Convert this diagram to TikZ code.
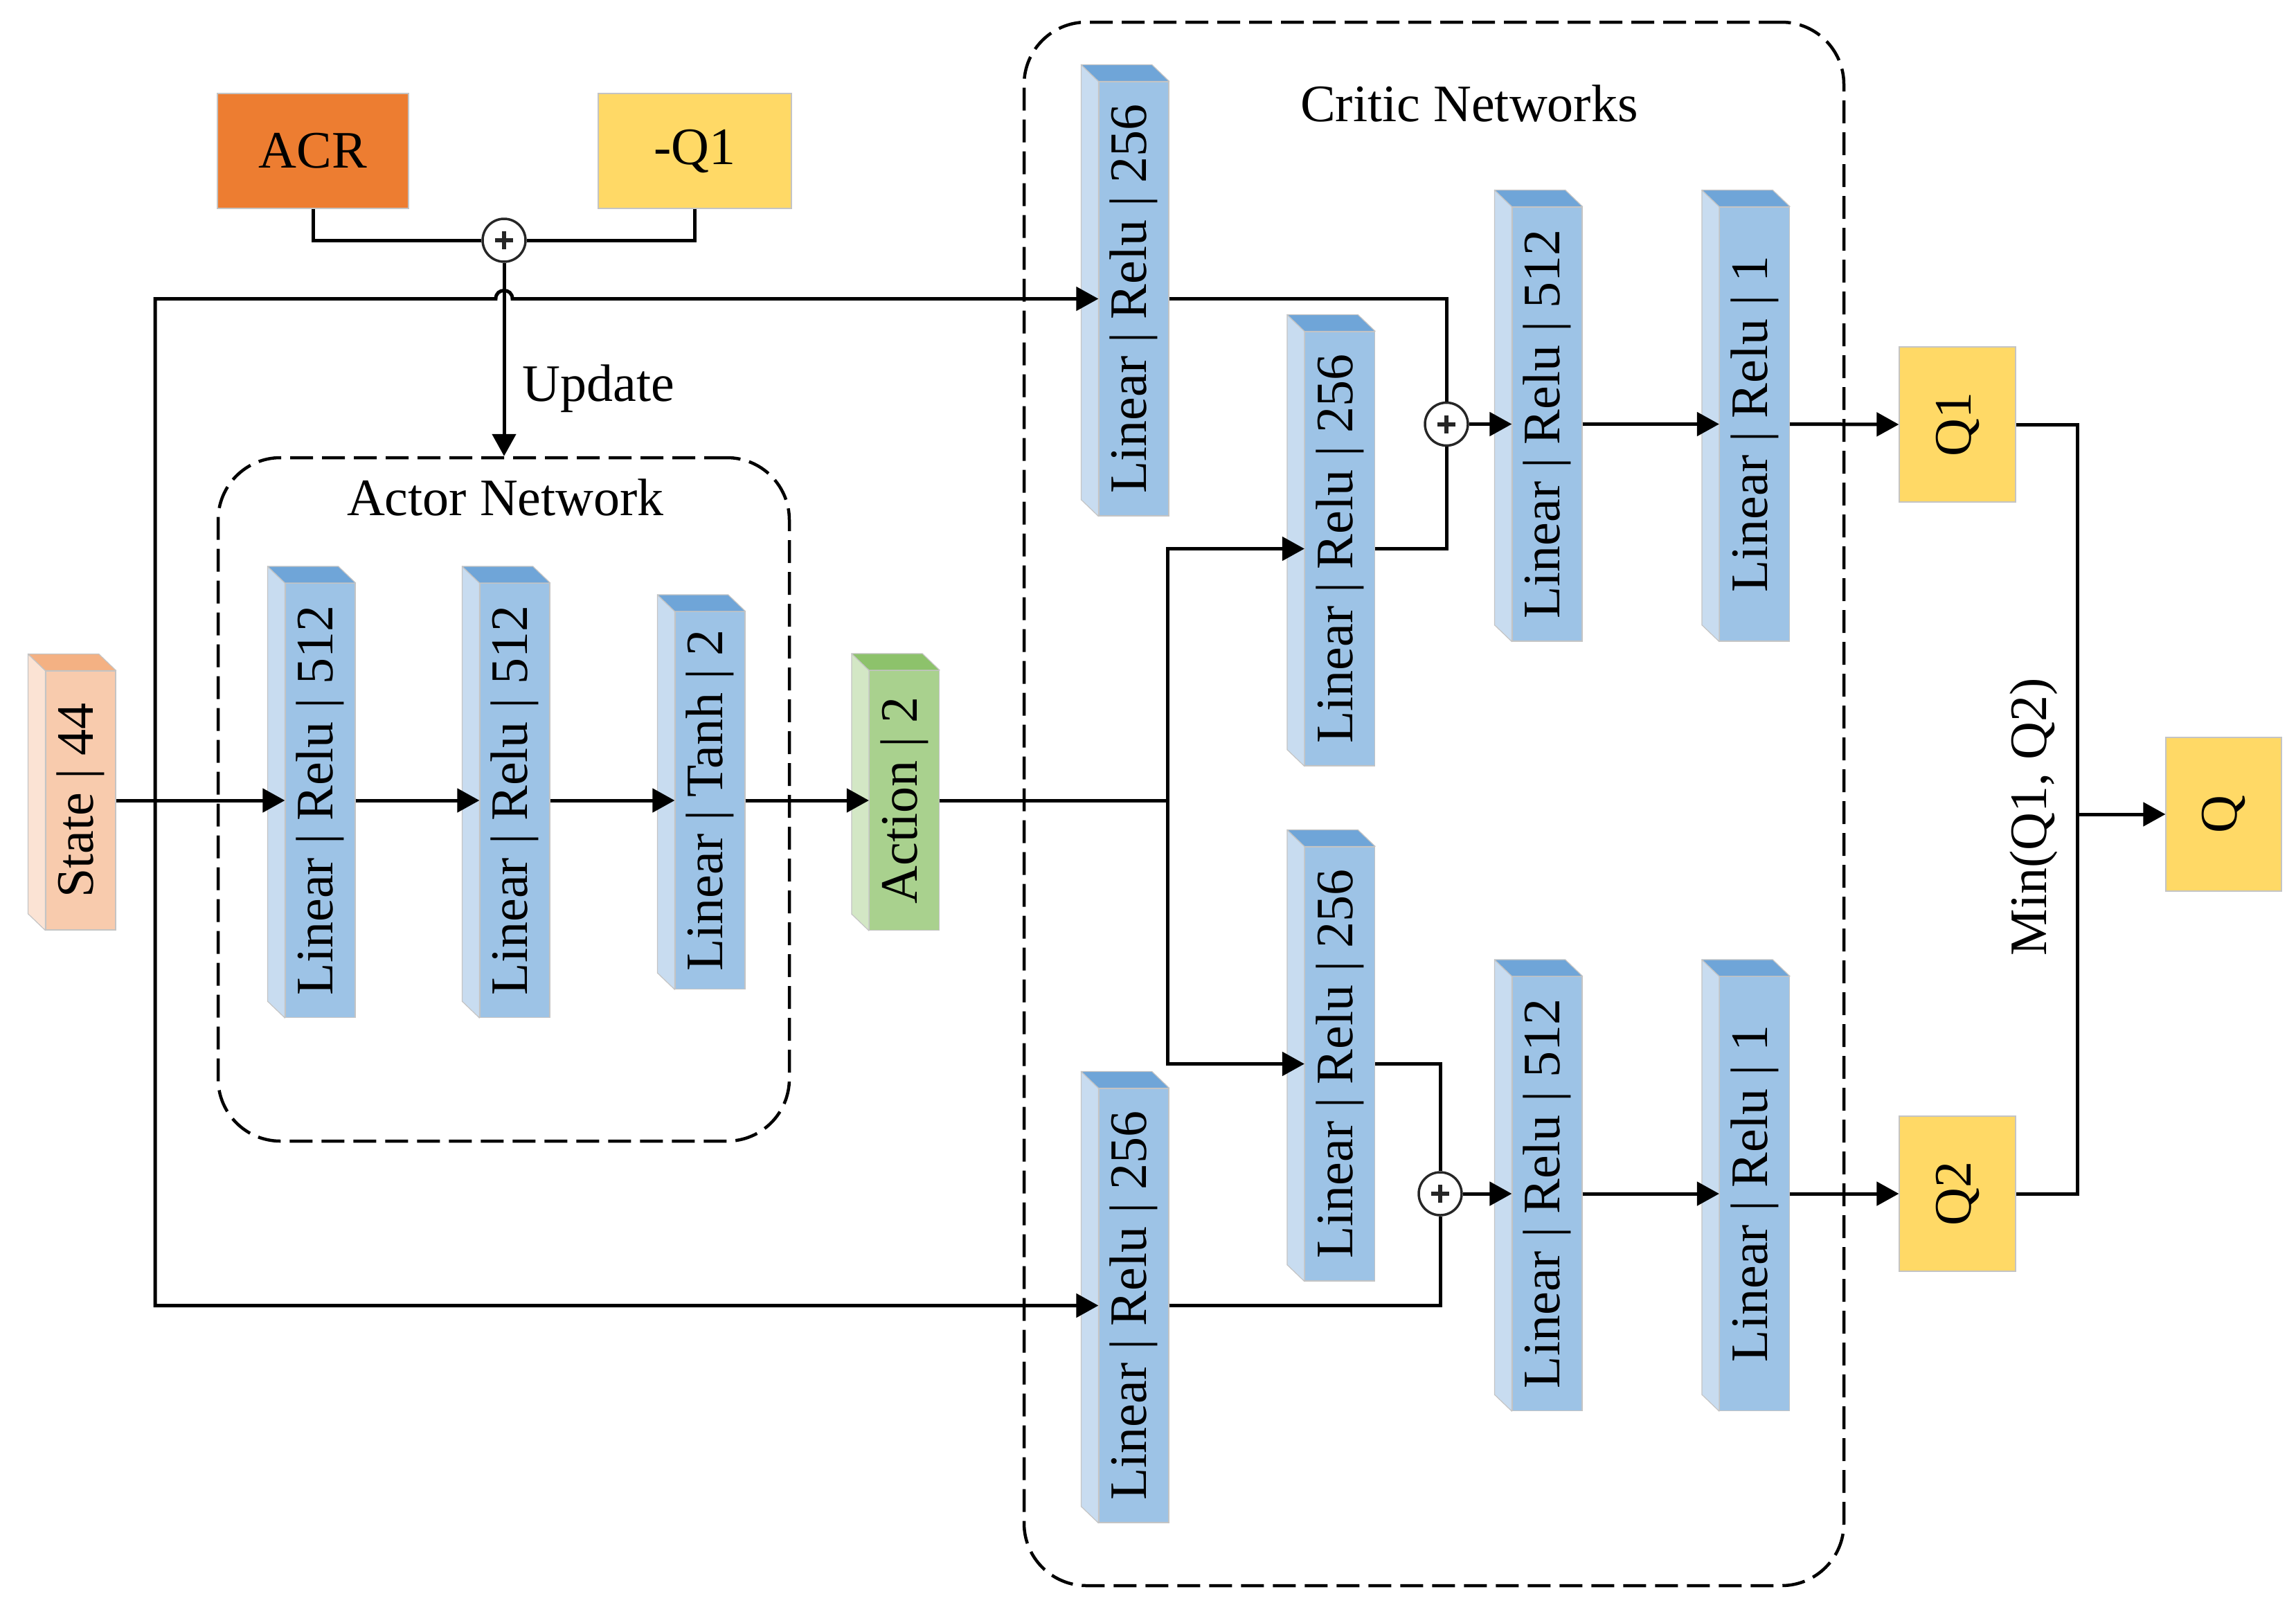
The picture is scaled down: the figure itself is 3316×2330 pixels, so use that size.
\documentclass[tikz,border=0pt]{standalone}
\usepackage{fontspec}
\setmainfont{Liberation Serif}
\usepackage{graphicx}
\usetikzlibrary{arrows.meta,calc}
\definecolor{bfront}{HTML}{9DC3E6}
\definecolor{bside}{HTML}{C8DCF0}
\definecolor{btop}{HTML}{6FA5D8}
\definecolor{sfront}{HTML}{F8CBAD}
\definecolor{sside}{HTML}{FBE3D4}
\definecolor{stop}{HTML}{F4B183}
\definecolor{gfront}{HTML}{A9D18E}
\definecolor{gside}{HTML}{D3E7C5}
\definecolor{gtop}{HTML}{8DC26B}
\definecolor{acrc}{HTML}{ED7D31}
\definecolor{qyel}{HTML}{FFD966}
\definecolor{edge}{HTML}{C4C4C4}
\begin{document}
\begin{tikzpicture}[x=1pt,y=-1pt,
  font=\fontsize{76}{80}\selectfont,
  >={Triangle[length=32pt,width=34pt]},
  layer/.style={draw=edge,line width=1.2pt,fill=bfront,minimum width=101pt,minimum height=627pt,inner sep=0pt},
  flat/.style={draw=edge,line width=1.2pt,inner sep=0pt},
  conn/.style={line width=5pt,draw=black},
  arr/.style={conn,->},
  frame/.style={draw=black,line width=4.5pt,dash pattern=on 33pt off 13pt,rounded corners=90pt,inner sep=0pt},
  sum/.style={circle,draw=black!85,fill=white,line width=3.5pt,minimum size=62pt,inner sep=0pt,
    path picture={\draw[line width=6pt,black!85] ($(path picture bounding box.center)+(-13,0)$) -- ++(26,0)
      ($(path picture bounding box.center)+(0,-13)$) -- ++(0,26);}}]
\useasboundingbox (0,0) rectangle (3316,2330);

% frames
\node[frame,minimum width=825pt,minimum height=987pt] (af) at (727.5,1154.5) {};
\node[frame,minimum width=1184pt,minimum height=2258pt] (cf) at (2071,1161) {};
\node[anchor=base] (aft) at (730,744) {Actor Network};
\node[anchor=base] (cft) at (2122,175) {Critic Networks};

% top boxes
\node[flat,fill=acrc,minimum width=276pt,minimum height=166pt] (acr) at (452,218) {ACR};
\node[flat,fill=qyel,minimum width=279pt,minimum height=166pt] (nq) at (1003.5,218) {-Q1};
\node[sum] (pl0) at (728,347) {};

% layers
\node[layer,fill=sfront,minimum height=374pt] (st) at (116.5,1156) {\rotatebox{90}{State | 44}};
\node[layer] (a1) at (462.5,1156) {\rotatebox{90}{Linear | Relu | 512}};
\node[layer] (a2) at (743.5,1156) {\rotatebox{90}{Linear | Relu | 512}};
\node[layer,minimum height=545pt] (a3) at (1025.5,1156) {\rotatebox{90}{Linear | Tanh | 2}};
\node[layer,fill=gfront,minimum height=375pt] (act) at (1306,1156) {\rotatebox{90}{Action | 2}};

\node[layer] (c1) at (1637.5,431.5) {\rotatebox{90}{Linear | Relu | 256}};
\node[layer] (c2) at (1935,792.5) {\rotatebox{90}{Linear | Relu | 256}};
\node[layer] (c3) at (1935,1536.5) {\rotatebox{90}{Linear | Relu | 256}};
\node[layer] (c4) at (1637.5,1885.5) {\rotatebox{90}{Linear | Relu | 256}};
\node[layer] (c5) at (2234.5,612.5) {\rotatebox{90}{Linear | Relu | 512}};
\node[layer] (c6) at (2534,612.5) {\rotatebox{90}{Linear | Relu | 1}};
\node[layer] (c7) at (2234.5,1724) {\rotatebox{90}{Linear | Relu | 512}};
\node[layer] (c8) at (2534,1724) {\rotatebox{90}{Linear | Relu | 1}};

% 3D faces
\foreach \n/\fs/\tp in {st/sside/stop,a1/bside/btop,a2/bside/btop,a3/bside/btop,act/gside/gtop,
  c1/bside/btop,c2/bside/btop,c3/bside/btop,c4/bside/btop,c5/bside/btop,c6/bside/btop,c7/bside/btop,c8/bside/btop}{
  \filldraw[fill=\fs,draw=edge,line width=1.2pt,line join=round] (\n.north west) -- ++(-25,-24) -- ($(\n.south west)+(-25,-24)$) -- (\n.south west) -- cycle;
  \filldraw[fill=\tp,draw=edge,line width=1.2pt,line join=round] (\n.north west) -- ++(-25,-24) -- ($(\n.north east)+(-25,-24)$) -- (\n.north east) -- cycle;
}

% sums
\node[sum] (pl1) at (2089,612.5) {};
\node[sum] (pl2) at (2080,1724) {};

% outputs
\node[flat,fill=qyel,minimum width=168pt,minimum height=224pt] (q1) at (2827,613) {\rotatebox{90}{Q1}};
\node[flat,fill=qyel,minimum width=168pt,minimum height=224pt] (q2) at (2827,1724) {\rotatebox{90}{Q2}};
\node[flat,fill=qyel,minimum width=167pt,minimum height=222pt] (q) at (3211.5,1176) {\rotatebox{90}{Q}};
\node[rotate=90,anchor=base] (mn) at (2955,1180) {Min(Q1, Q2)};

% coordinates
\coordinate (busx) at (224,0);
\coordinate (brx) at (1686,1156);
\coordinate (mx) at (3000,1176);
\coordinate (hop) at (pl0 |- c1.west);

% connectors
\draw[conn] (acr.south) |- (pl0.west);
\draw[conn] (nq.south) |- (pl0.east);
\draw[arr] (pl0.south) -- (pl0.south |- af.north);
\node[anchor=base west] (upd) at (751,579) {Update};

\draw[conn,<->] (c4.west) -- (c4.west -| busx) -- (c1.west -| busx) -- ($(hop)+(-12,0)$)
  .. controls ($(hop)+(-12,-16)$) and ($(hop)+(12,-16)$) .. ($(hop)+(12,0)$) -- (c1.west);

\draw[arr] (st.east) -- (a1.west);
\draw[arr] (a1.east) -- (a2.west);
\draw[arr] (a2.east) -- (a3.west);
\draw[arr] (a3.east) -- (act.west);
\draw[conn] (act.east) -- (brx);
\draw[arr] (brx) |- (c2.west);
\draw[arr] (brx) |- (c3.west);

\draw[conn] (c1.east) -| (pl1.north);
\draw[conn] (c2.east) -| (pl1.south);
\draw[arr] (pl1.east) -- (c5.west);
\draw[arr] (c5.east) -- (c6.west);
\draw[arr] (c6.east) -- (q1.west);

\draw[conn] (c3.east) -| (pl2.north);
\draw[conn] (c4.east) -| (pl2.south);
\draw[arr] (pl2.east) -- (c7.west);
\draw[arr] (c7.east) -- (c8.west);
\draw[arr] (c8.east) -- (q2.west);

\draw[conn] (q1.east) -| (mx) |- (q2.east);
\draw[arr] (mx) -- (q.west);
\end{tikzpicture}
\end{document}
